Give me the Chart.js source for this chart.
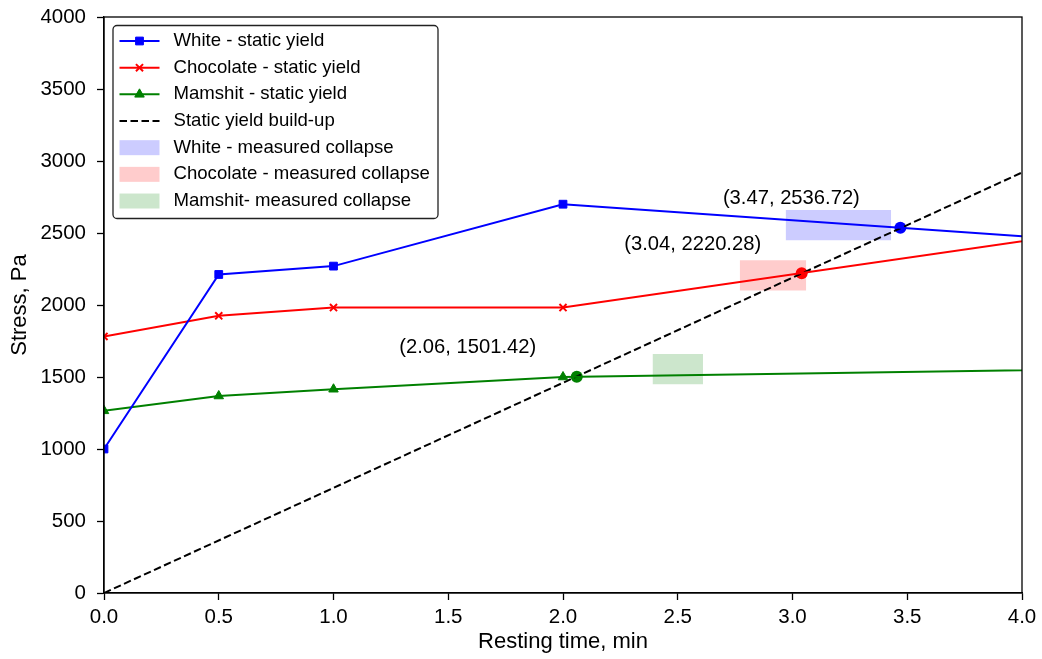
<!DOCTYPE html>
<html>
<head>
<meta charset="utf-8">
<script src="https://cdn.jsdelivr.net/npm/chart.js@4.4.1/dist/chart.umd.min.js"></script>
<style>
  html, body { margin: 0; padding: 0; background: #fff; }
</style>
</head>
<body>
<canvas id="myChart" width="1042" height="659"></canvas>
<script>
// Datos
const tiempos = [0, 0.5, 1, 2, 5];
const white = [1000, 2212, 2270, 2700, 2367];
const chocolate = [1782, 1925, 1982, 1982, 2674];
const mamshit = [1265, 1368, 1415, 1500, 1571];

const buildUpX = [0, 5];
const buildUpY = [0, 3650];

// puntos de cruce (anotados)
const cruceX = [3.47, 3.04, 2.06];
const cruceY = [2536.72, 2220.28, 1501.42];

// zonas de colapso medido
const colapsoX0 = [2.97, 2.77, 2.39];
const colapsoX1 = [3.43, 3.06, 2.61];
const colapsoY0 = [2450, 2100, 1450];
const colapsoY1 = [2660, 2310, 1660];

const xTicks = [0, 0.5, 1, 1.5, 2, 2.5, 3, 3.5, 4];
const yTicks = [0, 500, 1000, 1500, 2000, 2500, 3000, 3500, 4000];

const colores = ["#0000ff", "#ff0000", "#008000"];
const relleno = ["rgba(0,0,255,0.2)", "rgba(255,0,0,0.2)", "rgba(0,128,0,0.2)"];

Chart.defaults.font.family = "'Liberation Sans', Arial, sans-serif";
Chart.defaults.color = "#000";

const puntos = (xs, ys) => xs.map((x, i) => ({ x: x, y: ys[i] }));

const serie = (label, ys, color, estilo, radio, borde) => ({
  label: label,
  data: puntos(tiempos, ys),
  borderColor: color,
  backgroundColor: color,
  borderWidth: 2,
  pointStyle: estilo,
  pointRadius: radio,
  pointBackgroundColor: color,
  pointBorderColor: color,
  pointBorderWidth: borde,
  clip: 0,
  fill: false,
});

const datasets = [
  serie("White - static yield", white, colores[0], "rect", 5.5, 1),
  serie("Chocolate - static yield", chocolate, colores[1], "crossRot", 5, 2),
  serie("Mamshit - static yield", mamshit, colores[2], "triangle", 5.5, 1),
  {
    label: "Static yield build-up",
    data: puntos(buildUpX, buildUpY),
    borderColor: "#000",
    borderWidth: 2,
    borderDash: [7.5, 3.5],
    pointRadius: 0,
    clip: 0,
    fill: false,
  },
];

// circulos en los cruces
cruceX.forEach((x, i) => {
  datasets.push({
    data: [{ x: x, y: cruceY[i] }],
    showLine: false,
    pointRadius: 6,
    pointBackgroundColor: colores[i],
    pointBorderColor: colores[i],
    pointBorderWidth: 0,
  });
});

const nombresColapso = ["White - measured collapse", "Chocolate - measured collapse", "Mamshit- measured collapse"];
colapsoX0.forEach((x0, i) => {
  datasets.push({
    label: nombresColapso[i],
    data: [{ x: x0, y: colapsoY1[i] }, { x: colapsoX1[i], y: colapsoY1[i] }],
    borderWidth: 0,
    borderColor: "rgba(0,0,0,0)",
    pointRadius: 0,
    backgroundColor: relleno[i],
    fill: { value: colapsoY0[i] },
  });
});

// leyenda dibujada a mano (estilo matplotlib)
const leyenda = {
  id: "leyenda",
  afterDraw(chart) {
    const ctx = chart.ctx;
    const items = chart.data.datasets.filter((d) => d.label);
    const x0 = chart.chartArea.left + 9;
    const y0 = chart.chartArea.top + 8.5;
    ctx.save();
    ctx.fillStyle = "rgba(255,255,255,0.8)";
    ctx.strokeStyle = "#222";
    ctx.lineWidth = 1.3;
    ctx.beginPath();
    ctx.roundRect(x0, y0, 325, 193, 4);
    ctx.fill();
    ctx.stroke();
    items.forEach((ds, i) => {
      const cy = y0 + 15.5 + i * 26.67;
      const hx = x0 + 6.5;
      if (ds.fill) {
        ctx.fillStyle = ds.backgroundColor;
        ctx.fillRect(hx, cy - 7.5, 40, 15);
      } else {
        ctx.strokeStyle = ds.borderColor;
        ctx.lineWidth = ds.borderWidth;
        ctx.setLineDash(ds.borderDash || []);
        ctx.beginPath();
        ctx.moveTo(hx, cy);
        ctx.lineTo(hx + 40, cy);
        ctx.stroke();
        ctx.setLineDash([]);
        if (ds.pointRadius > 0) {
          ctx.fillStyle = ds.pointBackgroundColor;
          ctx.strokeStyle = ds.pointBorderColor;
          ctx.lineWidth = ds.pointBorderWidth;
          Chart.helpers.drawPoint(ctx, { pointStyle: ds.pointStyle, radius: ds.pointRadius, rotation: 0, borderWidth: ds.pointBorderWidth }, hx + 20, cy);
        }
      }
      ctx.fillStyle = "#000";
      ctx.font = "18.6px 'Liberation Sans', Arial, sans-serif";
      ctx.textAlign = "left";
      ctx.textBaseline = "middle";
      ctx.fillText(ds.label, x0 + 60.5, cy);
    });
    ctx.restore();
  },
};

// marco completo y anotaciones
const marco = {
  id: "marco",
  afterDatasetsDraw(chart) {
    const { ctx, chartArea: a, scales } = chart;
    ctx.save();
    ctx.font = "20.2px 'Liberation Sans', Arial, sans-serif";
    ctx.fillStyle = "#000";
    ctx.textAlign = "center";
    ctx.textBaseline = "middle";
    cruceX.forEach((x, i) => {
      const px = scales.x.getPixelForValue(x);
      const py = scales.y.getPixelForValue(cruceY[i]);
      ctx.fillText(`(${x.toFixed(2)}, ${cruceY[i].toFixed(2)})`, px - 109, py - 29);
    });
    ctx.strokeStyle = "#000";
    ctx.lineWidth = 1.3;
    ctx.strokeRect(a.left, a.top, a.right - a.left, a.bottom - a.top);
    ctx.restore();
  },
};

const ctx = document.getElementById("myChart");
const myChart = new Chart(ctx, {
  type: "line",
  data: { datasets: datasets },
  plugins: [marco, leyenda],
  options: {
    responsive: false,
    animation: false,
    devicePixelRatio: 1,
    layout: { padding: { left: 0, right: 20, top: 17, bottom: 0 } },
    plugins: { legend: { display: false }, tooltip: { enabled: false } },
    scales: {
      x: {
        type: "linear",
        min: 0,
        max: 4,
        afterBuildTicks: (s) => { s.ticks = xTicks.map((v) => ({ value: v })); },
        afterFit: (s) => { s.height = 66; s.paddingLeft = 0; s.paddingRight = 0; },
        ticks: { callback: (v) => v.toFixed(1), font: { size: 20.5 }, color: "#000", padding: 5, maxRotation: 0 },
        grid: { drawOnChartArea: false, drawTicks: true, tickLength: 7, tickColor: "#000", tickWidth: 1.3 },
        border: { display: true, color: "#000", width: 1.3 },
        title: { display: true, text: "Resting time, min", font: { size: 22 }, color: "#000", padding: { top: 0, bottom: 4 } },
      },
      y: {
        type: "linear",
        min: 0,
        max: 4000,
        afterBuildTicks: (s) => { s.ticks = yTicks.map((v) => ({ value: v })); },
        afterFit: (s) => { s.width = 104; s.paddingTop = 0; s.paddingBottom = 0; },
        ticks: { callback: (v) => String(v), font: { size: 20.5 }, color: "#000", padding: 11 },
        grid: { drawOnChartArea: false, drawTicks: true, tickLength: 7, tickColor: "#000", tickWidth: 1.3 },
        border: { display: true, color: "#000", width: 1.3 },
        title: { display: true, text: "Stress, Pa", font: { size: 22 }, color: "#000", padding: { top: 7, bottom: 0 } },
      },
    },
  },
});
</script>
</body>
</html>
